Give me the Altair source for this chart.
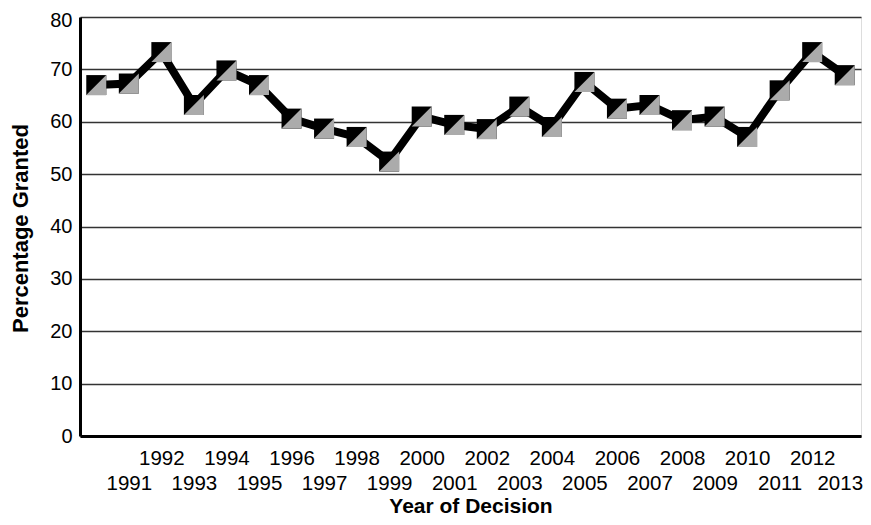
import altair as alt
import pandas as pd

years = list(range(1990, 2014))
granted = [67.0, 67.3, 73.3, 63.2, 69.8, 67.0, 60.6, 58.7, 57.1, 52.4, 61.0, 59.4,
           58.6, 62.9, 59.0, 67.6, 62.5, 63.2, 60.3, 61.0, 57.1, 66.0, 73.3, 68.9]
y_ticks = [0, 10, 20, 30, 40, 50, 60, 70, 80]

df = pd.DataFrame({"year": years, "pct": granted})

FONT = "Liberation Sans"
W, H = 781, 419

x_enc = alt.X(
    "year:O",
    title="Year of Decision",
    scale=alt.Scale(paddingOuter=0.5),
    axis=alt.Axis(
        labelAngle=0,
        labelExpr="datum.value == 1990 ? '' : (datum.value % 2 == 0 ? [datum.label, ''] : ['', datum.label])",
        labelOverlap=False,
        labelOffset={"condition": {"test": "datum.value == 2013", "value": -5}, "value": 0},
        ticks=False,
        domainWidth=3,
        domainColor="black",
        labelFontSize=20.5,
        labelFont=FONT,
        labelColor="black",
        labelLineHeight=25,
        labelPadding=12,
        titleFont=FONT,
        titleFontSize=21,
        titleFontWeight="bold",
        titleColor="black",
        titleX=W / 2,
        titleY=76,
        titleAlign="center",
        titleBaseline="alphabetic",
        grid=False,
    ),
)
y_enc = alt.Y(
    "pct:Q",
    title="Percentage Granted",
    scale=alt.Scale(domain=[0, 80], nice=False, zero=True),
    axis=alt.Axis(
        values=y_ticks,
        ticks=False,
        domainWidth=3,
        domainColor="black",
        grid=True,
        gridColor="#333333",
        gridWidth=1.3,
        labelFontSize=20,
        labelFont=FONT,
        labelColor="black",
        labelPadding=8,
        labelOffset={"condition": {"test": "datum.value == 80", "value": 3}, "value": 0},
        titleFont=FONT,
        titleFontSize=22,
        titleFontWeight="bold",
        titleColor="black",
        titleAngle=270,
        titleX=-53,
        titleY=211,
        titleAlign="center",
        titleBaseline="alphabetic",
    ),
)

base = alt.Chart(df).encode(x=x_enc, y=y_enc)

line = base.mark_line(color="black", strokeWidth=8, strokeJoin="miter")
squares = base.mark_point(shape="square", size=400, filled=True, color="black", opacity=1)
tri = base.mark_point(
    shape="M 1 -1 L 1 1 L -1 1 Z", size=400, filled=True, color="#ababab", opacity=1
)

chart = (
    alt.layer(line, squares, tri)
    .properties(
        width=W,
        height=H,
        autosize=alt.AutoSizeParams(type="none"),
        padding={"left": 72, "top": 9, "right": 2, "bottom": 81},
    )
    .configure_view(stroke="black", strokeWidth=1.3)
    .configure(background="white")
)

chart.save("out.html", embed_options={"renderer": "svg", "actions": False})
